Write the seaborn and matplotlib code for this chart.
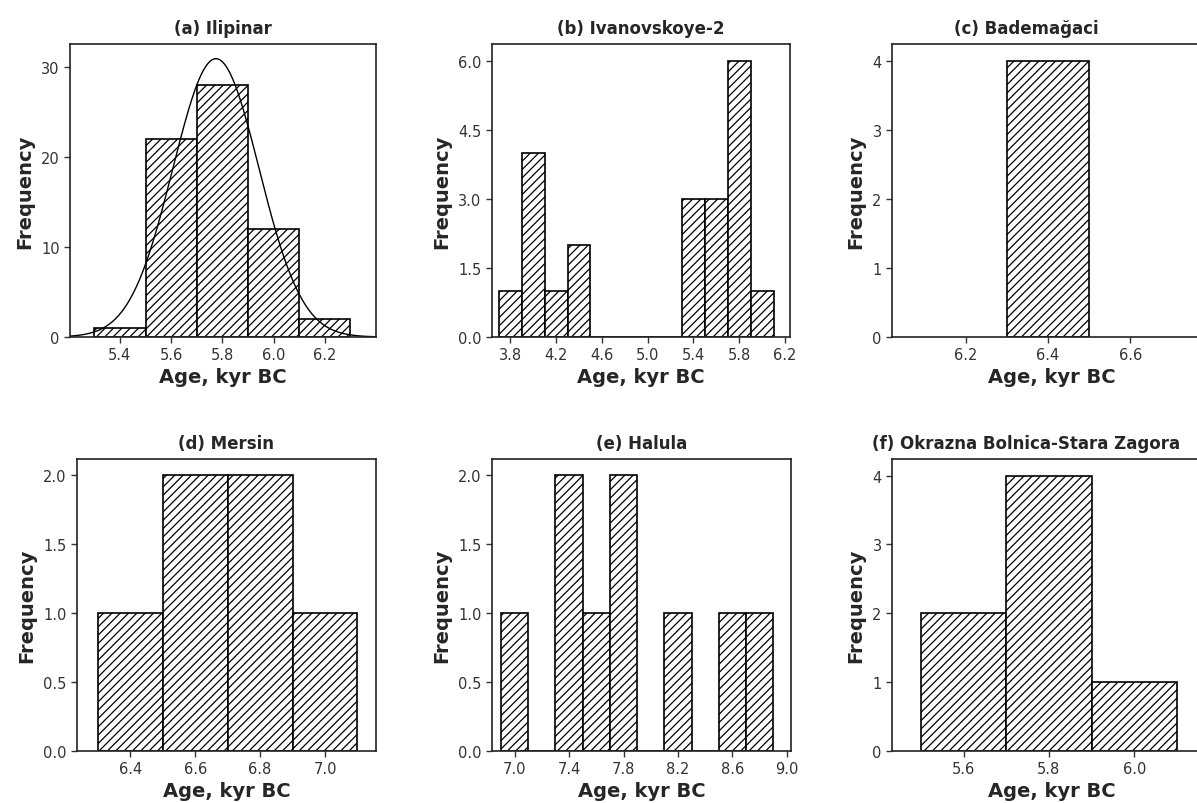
import numpy as np
import pandas as pd
import matplotlib.pyplot as plt
import seaborn as sns

sns.set_style('ticks')
plt.rcParams['font.family'] = ['DejaVu Sans']
plt.rcParams['hatch.linewidth'] = 0.9
plt.rcParams['hatch.color'] = 'black'

# bin width in kyr, left edges of the bins and the counts
BIN_W = 0.2

ilipinar_bins = [5.3, 5.5, 5.7, 5.9, 6.1]
ilipinar_counts = [1, 22, 28, 12, 2]
# normal fit drawn over (a)
ilipinar_fit_mean = 5.775
ilipinar_fit_sd = 0.168

ivanovskoye_bins = [3.7, 3.9, 4.1, 4.3, 5.3, 5.5, 5.7, 5.9]
ivanovskoye_counts = [1, 4, 1, 2, 3, 3, 6, 1]

bademagaci_bins = [6.3]
bademagaci_counts = [4]

mersin_bins = [6.3, 6.5, 6.7, 6.9]
mersin_counts = [1, 2, 2, 1]

halula_bins = [6.9, 7.3, 7.5, 7.7, 8.1, 8.5, 8.7]
halula_counts = [1, 2, 1, 2, 1, 1, 1]

okrazna_bins = [5.5, 5.7, 5.9]
okrazna_counts = [2, 4, 1]

titles = ['(a) Ilipinar', '(b) Ivanovskoye-2', '(c) Bademağaci',
          '(d) Mersin', '(e) Halula', '(f) Okrazna Bolnica-Stara Zagora']

W, H = 1197, 804
fig = plt.figure(figsize=(W / 100, H / 100), dpi=100)


def make_ax(left, right, top, bottom):
    return fig.add_axes([left / W, 1 - bottom / H, (right - left) / W, (bottom - top) / H])


panels = [
    # bins, counts, axes box (px), xlim, ylim, xticks, yticks, yfmt, title x
    (ilipinar_bins, ilipinar_counts, (70, 376, 45, 338), (5.205, 6.40), (0, 32.5),
     [5.4, 5.6, 5.8, 6.0, 6.2], [0, 10, 20, 30], '{:.0f}', 0.5),
    (ivanovskoye_bins, ivanovskoye_counts, (492, 790, 45, 338), (3.64, 6.244), (0, 6.37),
     [3.8, 4.2, 4.6, 5.0, 5.4, 5.8, 6.2], [0, 1.5, 3.0, 4.5, 6.0], '{:.1f}', 0.5),
    (bademagaci_bins, bademagaci_counts, (892, 1212, 45, 338), (6.02, 6.799), (0, 4.25),
     [6.2, 6.4, 6.6], [0, 1, 2, 3, 4], '{:.0f}', 0.42),
    (mersin_bins, mersin_counts, (77, 376, 460, 752), (6.236, 7.157), (0, 2.116),
     [6.4, 6.6, 6.8, 7.0], [0, 0.5, 1.0, 1.5, 2.0], '{:.1f}', 0.5),
    (halula_bins, halula_counts, (492, 791, 460, 752), (6.834, 9.03), (0, 2.116),
     [7.0, 7.4, 7.8, 8.2, 8.6, 9.0], [0, 0.5, 1.0, 1.5, 2.0], '{:.1f}', 0.5),
    (okrazna_bins, okrazna_counts, (892, 1212, 460, 752), (5.4325, 6.182), (0, 4.24),
     [5.6, 5.8, 6.0], [0, 1, 2, 3, 4], '{:.0f}', 0.42),
]

for i, (bins, counts, box, xlim, ylim, xticks, yticks, yfmt, tx) in enumerate(panels):
    ax = make_ax(*box)
    df = pd.DataFrame({'age': np.array(bins) + BIN_W / 2, 'n': counts})
    edges = [round(float(e), 3) for e in np.arange(min(bins), max(bins) + BIN_W * 1.5, BIN_W)]
    sns.histplot(data=df, x='age', weights='n', bins=edges, ax=ax,
                 color='white', edgecolor='black', linewidth=1.2, hatch='////', alpha=1)
    if i == 0:
        xs = np.linspace(xlim[0], xlim[1], 300)
        n = sum(counts)
        ys = n * BIN_W / (ilipinar_fit_sd * np.sqrt(2 * np.pi)) * \
            np.exp(-0.5 * ((xs - ilipinar_fit_mean) / ilipinar_fit_sd) ** 2)
        sns.lineplot(x=xs, y=ys, ax=ax, color='black', linewidth=1.0)
    ax.set_xlim(*xlim)
    ax.set_ylim(*ylim)
    ax.set_xticks(xticks)
    ax.set_xticklabels(['{:.1f}'.format(t) for t in xticks])
    ax.set_yticks(yticks)
    ax.set_yticklabels([yfmt.format(t) for t in yticks])
    ax.tick_params(direction='out', length=4, width=1, colors='#333333', labelsize=10.5)
    for s in ax.spines.values():
        s.set_visible(True)
        s.set_color('#222222')
        s.set_linewidth(1.2)
    ax.set_title(titles[i], fontsize=12, fontweight='bold', pad=8, x=tx)
    ax.set_xlabel('Age, kyr BC', fontsize=14, fontweight='bold', labelpad=3)
    ax.set_ylabel('Frequency', fontsize=14, fontweight='bold', labelpad=5)

fig.savefig('out.png', dpi=100)
